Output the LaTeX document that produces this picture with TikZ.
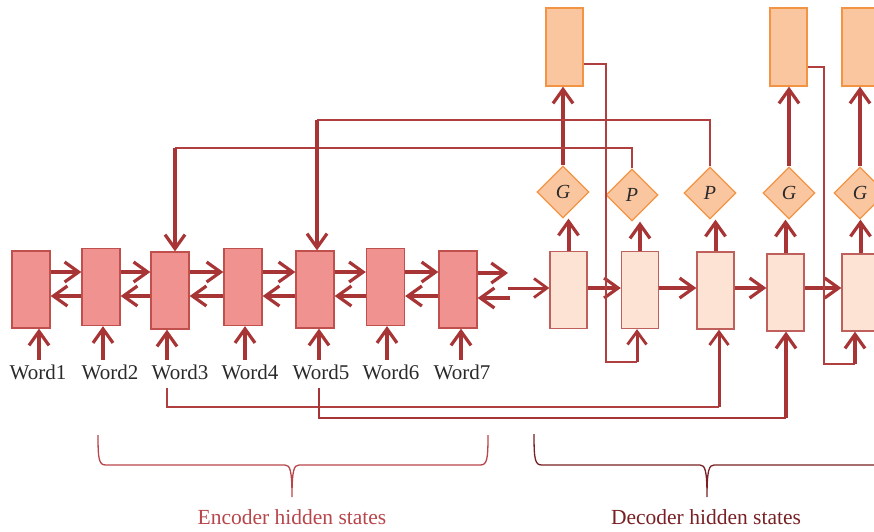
\documentclass[tikz,border=0pt]{standalone}
\usepackage{fontspec}
\setmainfont{Liberation Serif}
\usetikzlibrary{arrows.meta,shapes.geometric}

\definecolor{arrowred}{HTML}{A83536}
\definecolor{wirered}{HTML}{B0403F}
\definecolor{encfill}{HTML}{F0928F}
\definecolor{encline}{HTML}{C0504D}
\definecolor{decfill}{HTML}{FDE3D3}
\definecolor{decline}{HTML}{C0605C}
\definecolor{outfill}{HTML}{FAC6A0}
\definecolor{outline}{HTML}{F39445}
\definecolor{enctext}{HTML}{B8454A}
\definecolor{dectext}{HTML}{782024}
\definecolor{labeltext}{HTML}{2A2A2A}

\begin{document}
\begin{tikzpicture}[x=1pt,y=-1pt,
  encbox/.style={draw=encline, fill=encfill, line width=1.3pt,
    minimum width=38pt, minimum height=77pt, inner sep=0pt},
  decbox/.style={draw=decline, fill=decfill, line width=1.3pt,
    minimum width=37pt, minimum height=77pt, inner sep=0pt},
  outbox/.style={draw=outline, fill=outfill, line width=1.3pt,
    minimum width=37pt, minimum height=78pt, inner sep=0pt},
  gate/.style={shape=diamond, aspect=1, draw=outline, fill=outfill,
    line width=1.3pt, minimum width=52pt, minimum height=52pt, inner sep=0pt,
    font=\fontsize{20}{24}\selectfont\itshape, text=labeltext},
  wordlbl/.style={anchor=base, inner sep=0pt, text=labeltext,
    font=\fontsize{21}{25}\selectfont},
  thk/.style={draw=arrowred, line width=4pt,
    -{Straight Barb[length=14pt,width=20pt,line width=3.2pt]}},
  mid/.style={draw=arrowred, line width=3pt,
    -{Straight Barb[length=13pt,width=19pt,line width=2.8pt]}},
  fine/.style={draw=wirered, line width=1.3pt},
  brace/.style={line width=1.3pt},
]
\useasboundingbox (0,0) rectangle (874,531);
\clip (0,0) rectangle (874,531);

% encoder hidden states
\node[encbox] (e1) at (31,289.5) {};
\node[encbox] (e2) at (101,287) {};
\node[encbox] (e3) at (170,290.5) {};
\node[encbox] (e4) at (243,287) {};
\node[encbox] (e5) at (315,289.5) {};
\node[encbox] (e6) at (385.5,287) {};
\node[encbox] (e7) at (458,289.5) {};

% decoder hidden states
\node[decbox] (d1) at (568.5,290) {};
\node[decbox] (d2) at (640,290) {};
\node[decbox] (d3) at (715.5,290.5) {};
\node[decbox] (d4) at (785.5,292.5) {};
\node[decbox] (d5) at (860.5,292.5) {};

% generate / pointer gates
\node[gate] (g1) at (563,192) {G};
\node[gate] (p1) at (632,195) {P};
\node[gate] (p2) at (710,193) {P};
\node[gate] (g2) at (789,193) {G};
\node[gate] (g3) at (860,193) {G};

% output tokens
\node[outbox] (o1) at (564.5,47) {};
\node[outbox] (o2) at (788.5,47) {};
\node[outbox] (o3) at (860.5,47) {};

% input words
\node[wordlbl] (l1) at (38,379) {Word1};
\node[wordlbl] (l2) at (110,379) {Word2};
\node[wordlbl] (l3) at (180,379) {Word3};
\node[wordlbl] (l4) at (250,379) {Word4};
\node[wordlbl] (l5) at (321,379) {Word5};
\node[wordlbl] (l6) at (391,379) {Word6};
\node[wordlbl] (l7) at (462,379) {Word7};

% word inputs into the encoder
\coordinate (w1) at (39,360);
\coordinate (w2) at (103,360);
\coordinate (w3) at (167,360);
\coordinate (w4) at (245,360);
\coordinate (w5) at (319,360);
\coordinate (w6) at (387,360);
\coordinate (w7) at (461,360);
\foreach \i in {1,...,7}
  \draw[thk] (w\i) -- (w\i |- e\i.south);

% bidirectional encoder links
\coordinate (fw) at (0,272);
\coordinate (bw) at (0,296);
\foreach \a/\b in {e1/e2,e2/e3,e3/e4,e4/e5,e5/e6,e6/e7} {
  \draw[thk] (\a.east |- fw) -- (\b.west |- fw);
  \draw[thk] (\b.west |- bw) -- (\a.east |- bw);
}
\coordinate (eo) at (508,273);
\coordinate (ei) at (510,298);
\draw[thk] (e7.east |- eo) -- (eo);
\draw[thk] (ei) -- (ei -| e7.east);

% encoder to decoder, decoder chain
\coordinate (ds) at (508,288);
\draw[mid] (ds) -- (ds -| d1.west);
\coordinate (dr) at (0,288);
\foreach \a/\b in {d1/d2,d2/d3,d3/d4,d4/d5}
  \draw[thk] (\a.east |- dr) -- (\b.west |- dr);

% decoder states into gates, gates into outputs
\foreach \d/\g in {d1/g1,d2/p1,d3/p2,d4/g2,d5/g3}
  \draw[thk] (\d.north) -- (\d.north |- \g.south);
\foreach \g/\o in {g1/o1,g2/o2,g3/o3}
  \draw[thk] (\g.north) -- (\g.north |- \o.south);

% pointer gates reach back to encoder states
\coordinate (a3) at (175,148);
\coordinate (a5) at (317,120);
\draw[fine] (p1.north) |- (a3);
\draw[thk] (a3) -- (a3 |- e3.north);
\draw[fine] (p2.north) |- (a5);
\draw[thk] (a5) -- (a5 |- e5.north);

% generated outputs fed back as decoder inputs
\coordinate (f1) at (606,64);
\coordinate (f1b) at (637,362);
\draw[fine] (o1.east |- f1) -- (f1) |- (f1b);
\draw[mid] (f1b) -- (f1b |- d2.south);
\coordinate (f2) at (824,67);
\coordinate (f2b) at (855,364);
\draw[fine] (o2.east |- f2) -- (f2) |- (f2b);
\draw[thk] (f2b) -- (f2b |- d5.south);

% copied words fed as decoder inputs
\coordinate (c3) at (167,388);
\coordinate (c3b) at (719,407);
\draw[fine, line width=1.6pt] (c3) |- (c3b);
\draw[mid] (c3b) -- (c3b |- d3.south);
\coordinate (c5) at (319,388);
\coordinate (c5b) at (786,418);
\draw[fine, line width=2pt, draw=arrowred] (c5) |- (c5b);
\draw[thk, line width=4.5pt] (c5b) -- (c5b |- d4.south);

% braces and captions
\draw[brace, draw=enctext] (98,435) .. controls (98,460) and (99,465) .. (106,465)
  -- (285,465) .. controls (290,465) and (292,470) .. (292,497)
  .. controls (292,470) and (294,465) .. (299,465)
  -- (480,465) .. controls (487,465) and (488,460) .. (488,435);
\draw[brace, draw=dectext] (534,434) .. controls (534,460) and (535,465) .. (542,465)
  -- (700,465) .. controls (705,465) and (707,470) .. (707,497)
  .. controls (707,470) and (709,465) .. (714,465)
  -- (880,465);
\node[anchor=base, inner sep=0pt, text=enctext, font=\fontsize{21.5}{25}\selectfont]
  (enc) at (292,524) {Encoder hidden states};
\node[anchor=base, inner sep=0pt, text=dectext, font=\fontsize{21.5}{25}\selectfont]
  (dec) at (706,524) {Decoder hidden states};
\end{tikzpicture}
\end{document}
